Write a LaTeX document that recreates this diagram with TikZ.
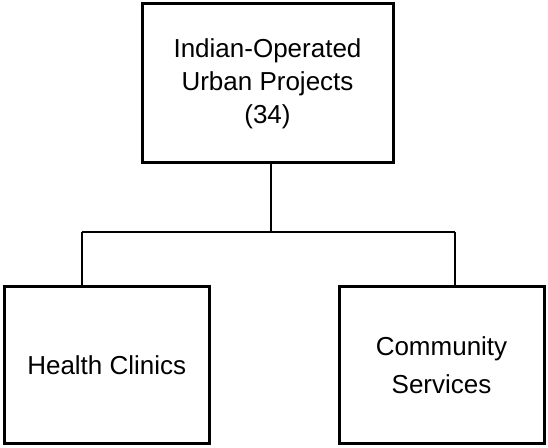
\documentclass[tikz,border=0pt]{standalone}
\usepackage{fontspec}
\setmainfont{Liberation Sans}
\begin{document}
\begin{tikzpicture}[x=1pt,y=1pt,
  box/.style={draw=black,line width=3pt,align=center,inner sep=0pt,
    font=\fontsize{26}{33}\selectfont},
  conn/.style={draw=black,line width=1.3pt}]
\useasboundingbox[fill=white] (0,0) rectangle (548,447);
\node[box,minimum width=251pt,minimum height=159pt] (top) at (267.5,363.5)
  {Indian-Operated\\Urban Projects\\(34)};
\node[box,minimum width=204.5pt,minimum height=156pt] (left) at (106.75,82)
  {Health Clinics};
\node[box,minimum width=205pt,minimum height=156pt,
  font=\fontsize{26}{38}\selectfont] (right) at (441.5,82)
  {Community\\Services};
\coordinate (j) at (271,215);
\coordinate (jl) at (82,215);
\coordinate (jr) at (455,215);
\draw[conn] (top.south -| j) -- (j);
\draw[conn] (jl) -- (jr);
\draw[conn] (jl) -- (jl |- left.north);
\draw[conn] (jr) -- (jr |- right.north);
\end{tikzpicture}
\end{document}
